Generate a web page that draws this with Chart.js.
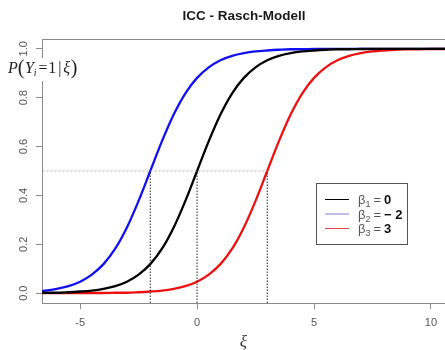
<!DOCTYPE html>
<html>
<head>
<meta charset="utf-8">
<title>ICC - Rasch-Modell</title>
<script src="https://cdn.jsdelivr.net/npm/chart.js"></script>
<style>
  html, body { margin: 0; padding: 0; background: #fff; }
  #wrap { width: 445px; height: 350px; }
</style>
</head>
<body>
<div id="wrap"><canvas id="iccGrafico" width="445" height="350"></canvas></div>
<script>
const xi = [-7, -6.5, -6, -5.5, -5, -4.5, -4, -3.5, -3, -2.5, -2, -1.5, -1, -0.5, 0, 0.5, 1, 1.5, 2,
            2.5, 3, 3.5, 4, 4.5, 5, 5.5, 6, 6.5, 7, 7.5, 8, 8.5, 9, 9.5, 10, 10.5, 11];
const pBeta1 = [0.001, 0.002, 0.002, 0.004, 0.007, 0.011, 0.018, 0.029, 0.047, 0.076, 0.119, 0.182, 0.269,
                0.378, 0.5, 0.622, 0.731, 0.818, 0.881, 0.924, 0.953, 0.971, 0.982, 0.989, 0.993, 0.996,
                0.998, 0.998, 0.999, 0.999, 1.0, 1.0, 1.0, 1.0, 1.0, 1.0, 1.0];
const pBeta2 = [0.007, 0.011, 0.018, 0.029, 0.047, 0.076, 0.119, 0.182, 0.269, 0.378, 0.5, 0.622, 0.731,
                0.818, 0.881, 0.924, 0.953, 0.971, 0.982, 0.989, 0.993, 0.996, 0.998, 0.998, 0.999, 0.999,
                1.0, 1.0, 1.0, 1.0, 1.0, 1.0, 1.0, 1.0, 1.0, 1.0, 1.0];
const pBeta3 = [0.0, 0.0, 0.0, 0.0, 0.0, 0.001, 0.001, 0.002, 0.002, 0.004, 0.007, 0.011, 0.018,
                0.029, 0.047, 0.076, 0.119, 0.182, 0.269, 0.378, 0.5, 0.622, 0.731, 0.818, 0.881, 0.924,
                0.953, 0.971, 0.982, 0.989, 0.993, 0.996, 0.998, 0.998, 0.999, 0.999, 1.0];
const betas = [0, -2, 3];
const betaTexte = ["0", "\u2212 2", "3"];
const farben = ["#000000", "#1010f0", "#ee1010"];
const legendFarben = ["#000000", "#8080d8", "#e04848"];
const xTicks = [-5, 0, 5, 10];
const yTicks = [0, 0.2, 0.4, 0.6, 0.8, 1.0];

const xMin = -6.63, xMax = 10.6, yMin = -0.04, yMax = 1.04;
const grau = "#8a8a8a";

const kurven = [pBeta1, pBeta2, pBeta3].map((werte, i) => ({
    data: xi.map((x, k) => ({ x: x, y: werte[k] })),
    borderColor: farben[i],
    borderWidth: 2.3,
    pointRadius: 0,
    cubicInterpolationMode: "monotone",
    order: 2
}));

// Hilfslinien bei P = 0.5
const hilfslinien = [{
    data: [{ x: xMin - 1, y: 0.5 }, { x: Math.max(...betas), y: 0.5 }],
    borderColor: "#b0b0b0",
    borderWidth: 1,
    borderDash: [2, 2],
    pointRadius: 0,
    order: 1
}].concat(betas.map(b => ({
    data: [{ x: b, y: yMin }, { x: b, y: 0.5 }],
    borderColor: "#222222",
    borderWidth: 1,
    borderDash: [1.5, 1.5],
    pointRadius: 0,
    order: 1
})));

function zeichneTeile(ctx, x, y, teile) {
    teile.forEach(t => {
        ctx.font = t.font;
        ctx.fillStyle = t.color || "#222";
        ctx.fillText(t.text, x, y + (t.dy || 0));
        x += ctx.measureText(t.text).width + (t.gap || 0);
    });
}

const extras = {
    id: "extras",
    afterDraw(chart) {
        const ctx = chart.ctx;
        const a = chart.chartArea;
        ctx.save();

        // obere Rahmenlinie
        ctx.strokeStyle = grau;
        ctx.lineWidth = 1;
        ctx.beginPath();
        ctx.moveTo(a.left, a.top + 0.5);
        ctx.lineTo(a.right, a.top + 0.5);
        ctx.stroke();

        // Titel
        ctx.font = "bold 13.5px 'Liberation Sans', Arial, sans-serif";
        ctx.fillStyle = "#1a1a1a";
        ctx.textAlign = "center";
        ctx.textBaseline = "alphabetic";
        ctx.fillText("ICC - Rasch-Modell", 244, 20);

        // y-Achsenbeschriftung
        ctx.textAlign = "left";
        ctx.fillStyle = "#fff";
        ctx.fillRect(5, 58, 77, 23);
        const serif = "'Liberation Serif', 'DejaVu Serif', serif";
        zeichneTeile(ctx, 8, 73, [
            { text: "P", font: "italic 16px " + serif },
            { text: "(", font: "20px " + serif, dy: 1, gap: 0.5 },
            { text: "Y", font: "italic 16px " + serif },
            { text: "i", font: "italic 10px " + serif, dy: 3, gap: 2 },
            { text: "=", font: "16px " + serif, gap: 0.5 },
            { text: "1", font: "16px " + serif, gap: 2 },
            { text: "|", font: "16px " + serif, gap: 2 },
            { text: "\u03be", font: "italic 16px " + serif, gap: 0.5 },
            { text: ")", font: "20px " + serif, dy: 1 }
        ]);

        // Legende
        ctx.fillStyle = "#fff";
        ctx.fillRect(316, 183, 92, 62);
        ctx.strokeStyle = "#555";
        ctx.strokeRect(316.5, 183.5, 91, 61);
        const sans = "'Liberation Sans', Arial, sans-serif";
        betas.forEach((b, i) => {
            const y = 199 + i * 14.5;
            ctx.strokeStyle = legendFarben[i];
            ctx.lineWidth = 1;
            ctx.beginPath();
            ctx.moveTo(325, y + 0.5);
            ctx.lineTo(349, y + 0.5);
            ctx.stroke();
            zeichneTeile(ctx, 358, y + 5, [
                { text: "\u03b2", font: "13px " + sans, color: "#555" },
                { text: String(i + 1), font: "9px " + sans, color: "#555", dy: 3, gap: 3 },
                { text: "=", font: "13px " + sans, color: "#555", gap: 3 },
                { text: betaTexte[i], font: "bold 13px " + sans, color: "#111" }
            ]);
        });
        ctx.restore();
    }
};

new Chart(document.getElementById("iccGrafico"), {
    type: "line",
    data: { datasets: kurven.concat(hilfslinien) },
    options: {
        responsive: false,
        animation: false,
        devicePixelRatio: 1,
        layout: { padding: { top: 39, left: 0, right: 0, bottom: 0 } },
        plugins: { legend: { display: false }, tooltip: { enabled: false } },
        scales: {
            x: {
                type: "linear",
                min: xMin,
                max: xMax,
                afterBuildTicks: sc => { sc.ticks = xTicks.map(v => ({ value: v })); },
                afterFit: sc => { sc.height = 47; },
                grid: { drawOnChartArea: false, tickLength: 6, tickColor: grau },
                border: { color: grau, width: 1 },
                ticks: {
                    font: { family: "'Liberation Sans', Arial, sans-serif", size: 11 },
                    color: "#555",
                    padding: 7
                },
                title: {
                    display: true,
                    text: "\u03be",
                    font: { family: "'Liberation Serif', serif", style: "italic", size: 17 },
                    color: "#333",
                    padding: { top: 0, bottom: -3 }
                }
            },
            y: {
                type: "linear",
                min: yMin,
                max: yMax,
                afterBuildTicks: sc => { sc.ticks = yTicks.map(v => ({ value: v })); },
                afterFit: sc => { sc.width = 42; },
                grid: { drawOnChartArea: false, tickLength: 6, tickColor: grau },
                border: { color: grau, width: 1 },
                ticks: {
                    font: { family: "'Liberation Sans', Arial, sans-serif", size: 11 },
                    color: "#555",
                    minRotation: 90,
                    maxRotation: 90,
                    crossAlign: "center",
                    padding: 4,
                    callback: v => v.toFixed(1)
                }
            }
        }
    },
    plugins: [extras]
});
</script>
</body>
</html>
